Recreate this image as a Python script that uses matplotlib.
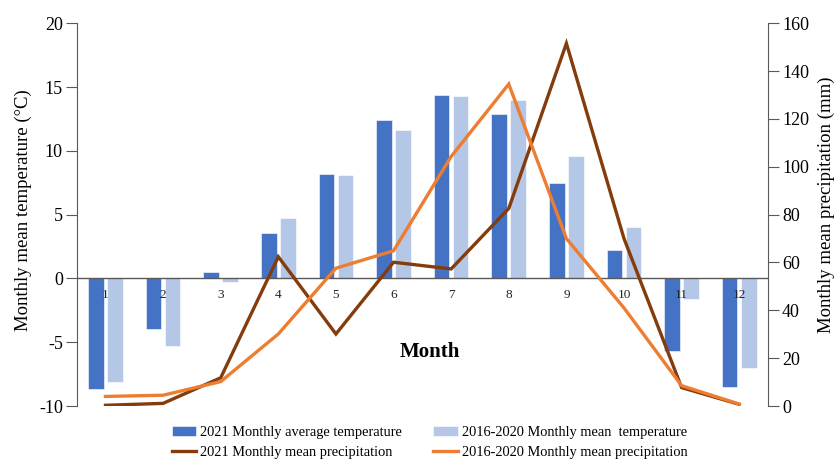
import matplotlib
matplotlib.use("Agg")
import matplotlib.pyplot as plt
import numpy as np

plt.rcParams['font.family'] = ['Liberation Serif', 'DejaVu Serif']
plt.rcParams['axes.unicode_minus'] = False

months = ["1", "2", "3", "4", "5", "6", "7", "8", "9", "10", "11", "12"]
temp_2021 = [-8.7, -4.0, 0.5, 3.6, 8.2, 12.4, 14.4, 12.9, 7.5, 2.2, -5.7, -8.5]
temp_1620 = [-8.1, -5.3, -0.3, 4.7, 8.1, 11.6, 14.3, 14.0, 9.6, 4.0, -1.6, -7.0]
prec_2021 = [0.3, 1.1, 11.8, 62.4, 30.1, 60.1, 57.3, 82.6, 151.6, 70.0, 7.7, 0.7]
prec_1620 = [4.0, 4.5, 10.2, 30.1, 57.6, 64.9, 104.3, 134.6, 70.0, 41.0, 8.5, 0.8]

c_bar21 = "#4472C4"
c_bar16 = "#B4C7E7"
c_pr21 = "#843C0C"
c_pr16 = "#ED7D31"
c_axis = "#595959"

fig = plt.figure(figsize=(8.37, 4.61), dpi=100)
ax = fig.add_axes([0.0916, 0.1193, 0.8260, 0.8302])
x = np.arange(len(months)) + 0.5
w = 0.27
off = 0.165
b1 = ax.bar(x - off, temp_2021, w, color=c_bar21, edgecolor="white", linewidth=0.4,
            label="2021 Monthly average temperature", zorder=2)
b2 = ax.bar(x + off, temp_1620, w, color=c_bar16, edgecolor="white", linewidth=0.4,
            label="2016-2020 Monthly mean  temperature", zorder=2)
ax.axhline(0, color=c_axis, lw=1.0, zorder=3)
ax.set_xlim(0, 12)
ax.set_ylim(-10, 20)
ax.set_yticks([-10, -5, 0, 5, 10, 15, 20])
ax.set_xticks([])
for s in ["top", "right", "bottom"]:
    ax.spines[s].set_visible(False)
ax.spines["left"].set_color(c_axis)
ax.tick_params(axis="y", direction="out", length=8, color=c_axis, labelsize=13, pad=2)
ax.set_ylabel("Monthly mean temperature (\u00b0C)", fontsize=13.5)
ax.yaxis.set_label_coords(-0.065, 0.512)

for xi, m in zip(x, months):
    ax.text(xi, -0.85, m, ha="center", va="top", fontsize=9.5, color="#222222", zorder=6)

ax.text(6.13, -5.74, "Month", ha="center", va="center", fontsize=15, fontweight="bold")

ax2 = ax.twinx()
l1, = ax2.plot(x, prec_2021, color=c_pr21, lw=2.4, label="2021 Monthly mean precipitation",
               solid_joinstyle="miter")
l2, = ax2.plot(x, prec_1620, color=c_pr16, lw=2.4, label="2016-2020 Monthly mean precipitation",
               solid_joinstyle="miter")
ax2.set_ylim(0, 160)
ax2.set_yticks(np.arange(0, 161, 20))
for s in ["top", "left", "bottom"]:
    ax2.spines[s].set_visible(False)
ax2.spines["right"].set_color(c_axis)
ax2.tick_params(axis="y", direction="out", length=8, color=c_axis, labelsize=13, pad=2)
ax2.set_ylabel("Monthly mean precipitation (mm)", fontsize=13.5, rotation=90)
ax2.yaxis.set_label_coords(1.072, 0.525)

fig.legend(handles=[b1, l1, b2, l2], loc="center", bbox_to_anchor=(0.513, 0.04),
           ncol=2, frameon=False, fontsize=10.4, handlelength=1.7, handletextpad=0.25,
           columnspacing=2.2, labelspacing=0.45)

fig.savefig("out.png", dpi=100)
